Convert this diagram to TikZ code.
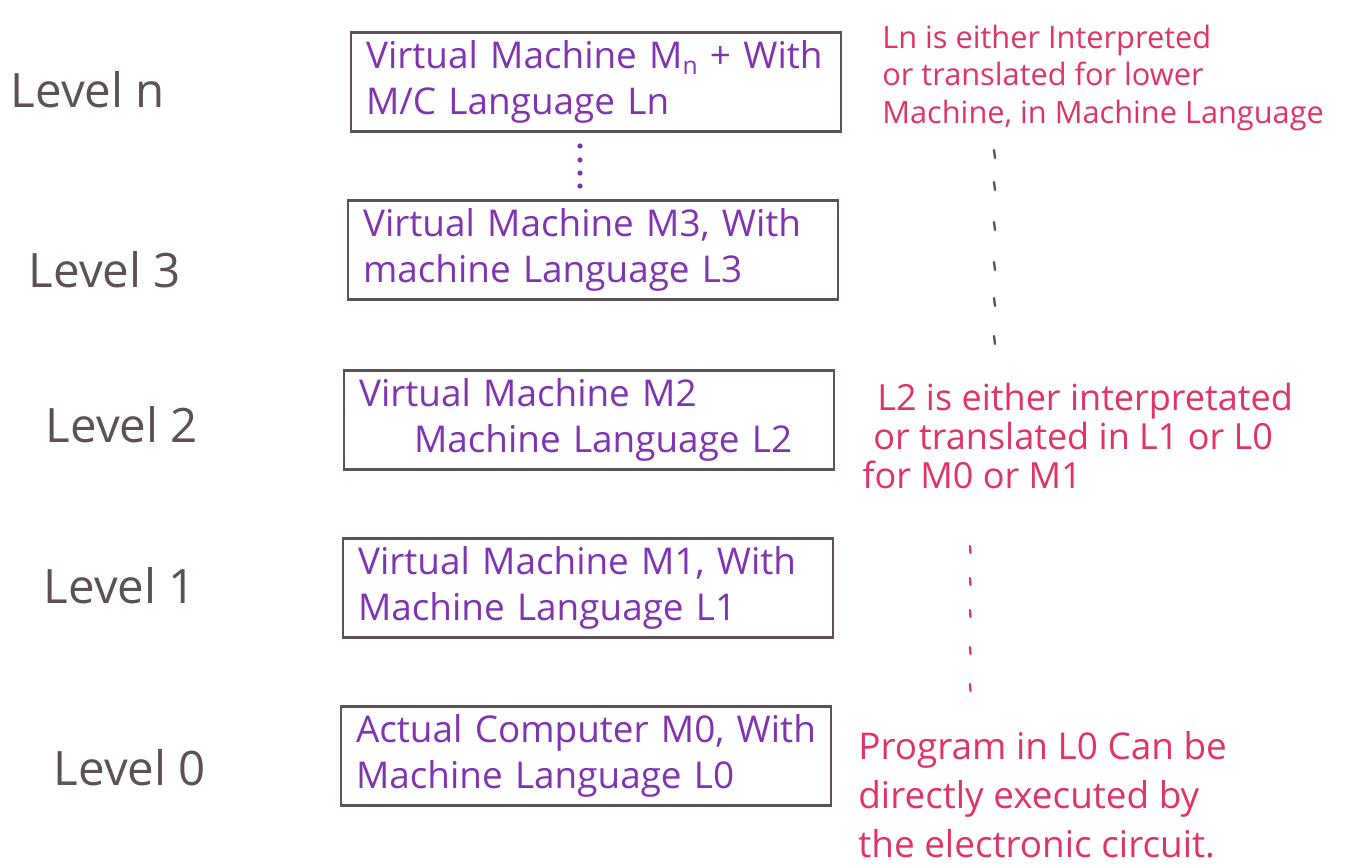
\documentclass[tikz,border=0pt]{standalone}
\usepackage{fontspec}
\setmainfont{Open Sans}
\definecolor{ink}{RGB}{92,82,86}
\definecolor{violet}{RGB}{128,52,178}
\definecolor{rose}{RGB}{222,52,104}
\newcommand{\subn}{\raisebox{-0.18em}{\fontsize{14}{14}\selectfont n}}
\begin{document}
\begin{tikzpicture}[x=0.02cm,y=-0.02cm,
  levelbox/.style={draw=ink,line width=1.2pt,minimum width=9.8cm,minimum height=1.98cm,
    inner xsep=0.3cm,text width=9.2cm,align=left,text=violet,
    font=\fontsize{21}{26.5}\selectfont},
  leveltag/.style={text=ink,font=\fontsize{27}{30}\selectfont},
  note/.style={text=rose,align=left,anchor=west,inner sep=0pt},
  tick/.style={line width=1.3pt,line cap=round}]
\useasboundingbox (0,0) rectangle (1346,868);

% level labels
\node[leveltag] (tn) at (88,90) {Level n};
\node[leveltag] (t3) at (105,270) {Level 3};
\node[leveltag] (t2) at (122,425) {Level 2};
\node[leveltag] (t1) at (120,586) {Level 1};
\node[leveltag] (t0) at (130,768) {Level 0};

% machine levels
\node[levelbox] (bn) at (596,82) {Virtual Machine M\subn{} + With\\M/C Language Ln};
\node[levelbox] (b3) at (593,250) {Virtual Machine M3, With\\machine Language L3};
\node[levelbox] (b2) at (589,420) {Virtual Machine M2\\\hspace{1.1cm}Machine Language L2};
\node[levelbox] (b1) at (588,588) {Virtual Machine M1, With\\Machine Language L1};
\node[levelbox] (b0) at (586,756) {Actual Computer M0, With\\Machine Language L0};

% elided levels between n and 3
\foreach \yy in {146,160,173,186}
  \fill[violet] (580,\yy) circle (2.6);

% explanations
\node[note,font=\fontsize{17.5}{21.5}\selectfont] (nn) at (882,78)
  {Ln is either Interpreted\\or translated for lower\\Machine, in Machine Language};
\node[note,font=\fontsize{20.5}{22}\selectfont] (n2) at (862,436)
  {\hspace{0.3cm}L2 is either interpretated\\\hspace{0.22cm}or translated in L1 or L0\\for M0 or M1};
\node[note,font=\fontsize{21}{28}\selectfont] (n0) at (858,795)
  {Program in L0 Can be\\directly executed by\\the electronic circuit.};

% dashed guides
\foreach \yy in {150,182,222,262,298,336}
  \draw[ink,tick] (994,\yy) -- (995,\yy+8);
\foreach \yy in {546,578,610,647,684}
  \draw[rose,tick] (970,\yy) -- (970.5,\yy+7);
\end{tikzpicture}
\end{document}
